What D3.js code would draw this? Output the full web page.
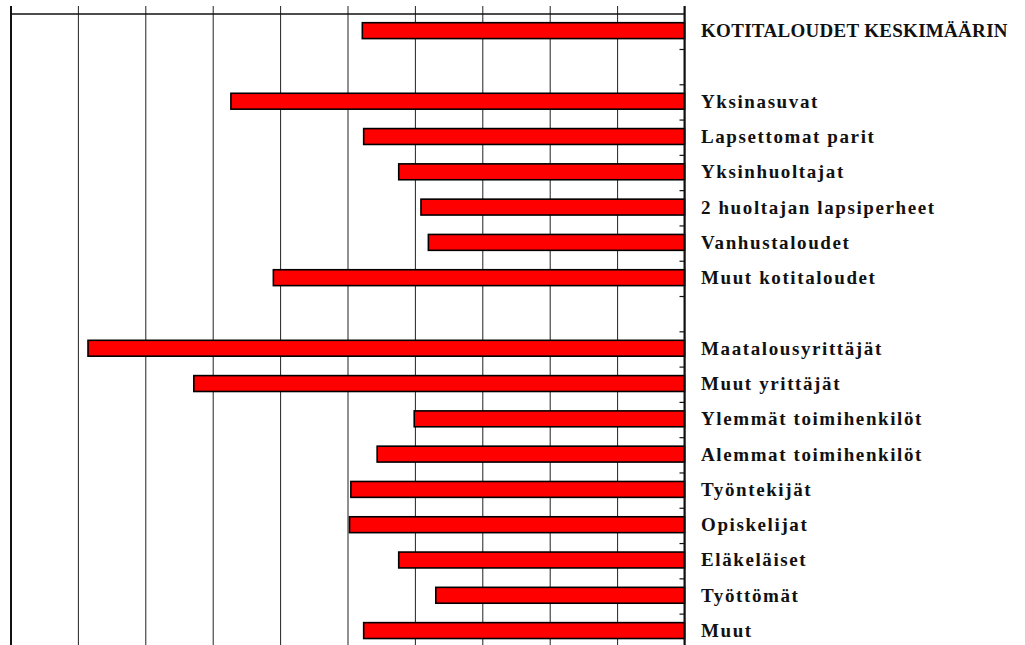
<!DOCTYPE html>
<html>
<head>
<meta charset="utf-8">
<script src="https://cdn.jsdelivr.net/npm/d3@7"></script>
<style>
  body { margin: 0; background: #fff; }
  .label { font-family: "Liberation Serif", "Times New Roman", serif; font-weight: bold; font-size: 19px; fill: #111; }
</style>
</head>
<body>
<div id="chart"></div>
<script>
// categories, top to bottom (empty strings are the gaps between groups)
const categories = [
    "KOTITALOUDET KESKIMÄÄRIN", "",
    "Yksinasuvat", "Lapsettomat parit", "Yksinhuoltajat", "2 huoltajan lapsiperheet",
    "Vanhustaloudet", "Muut kotitaloudet", "",
    "Maatalousyrittäjät", "Muut yrittäjät", "Ylemmät toimihenkilöt", "Alemmat toimihenkilöt",
    "Työntekijät", "Opiskelijat", "Eläkeläiset", "Työttömät", "Muut"
];
const values = [
    4.78, null,
    6.73, 4.76, 4.24, 3.91,
    3.80, 6.10, null,
    8.85, 7.28, 4.01, 4.56,
    4.95, 4.97, 4.24, 3.69, 4.76
];
const gridTicks = d3.range(0, 11);

const width = 1025, height = 645;
let margin = {top: 13, left: 10.5, right: 684.5};
let step = 35.29;
let plotBottom = margin.top + categories.length * step;

const svg = d3.select("#chart").append("svg")
    .attr("width", width)
    .attr("height", height);

let x = d3.scaleLinear().domain([0, 10]).range([margin.right, margin.left]);
let y = d3.scaleBand()
    .domain(d3.range(categories.length))
    .range([margin.top, plotBottom])
    .paddingInner(0.55)
    .paddingOuter(0.275);
let yEdge = d3.scaleLinear().domain([0, categories.length]).range([margin.top, plotBottom]);

// vertical gridlines, sticking out above the top border
let grid = svg.append("g")
    .attr("transform", "translate(0,6)")
    .call(d3.axisBottom(x).tickValues(gridTicks).tickSize(plotBottom - 6).tickFormat(""));
grid.select(".domain").remove();
grid.selectAll("line").attr("stroke", "#222").attr("stroke-width", 1);
grid.selectAll(".tick").filter(d => d === 10)
    .select("line").attr("stroke-width", 2).attr("stroke", "#111");

// top border
svg.append("line")
    .attr("x1", margin.left).attr("x2", margin.right)
    .attr("y1", margin.top + 1).attr("y2", margin.top + 1)
    .attr("stroke", "#111").attr("stroke-width", 1.6);

// bars
svg.selectAll(".bar")
    .data(values.map((v, i) => ({v, i})).filter(d => d.v !== null))
    .enter()
    .append("rect")
    .classed("bar", true)
    .attr("x", d => x(d.v))
    .attr("y", d => y(d.i))
    .attr("width", d => x(0) - x(d.v))
    .attr("height", y.bandwidth())
    .attr("fill", "#ff0000")
    .attr("stroke", "#000")
    .attr("stroke-width", 1.6);

// right axis with inward ticks at category boundaries
let right = svg.append("g")
    .attr("transform", "translate(" + margin.right + ",0)")
    .call(d3.axisLeft(yEdge).tickValues(d3.range(1, categories.length + 1)).tickSize(5).tickFormat(""));
right.select(".domain").remove();
right.selectAll("line").attr("stroke", "#111").attr("stroke-width", 1.2)
    .attr("transform", "translate(0,0.7)");
svg.append("line")
    .attr("x1", margin.right).attr("x2", margin.right)
    .attr("y1", 6).attr("y2", plotBottom)
    .attr("stroke", "#111").attr("stroke-width", 2);

// category labels
svg.selectAll(".label")
    .data(categories.map((c, i) => ({c, i})).filter(d => d.c !== ""))
    .enter()
    .append("text")
    .classed("label", true)
    .attr("x", 701)
    .attr("y", d => y(d.i) + y.bandwidth() / 2 + 6.5)
    .attr("letter-spacing", d => d.c === d.c.toUpperCase() ? 0.3 : 1.6)
    .text(d => d.c);
</script>
</body>
</html>
